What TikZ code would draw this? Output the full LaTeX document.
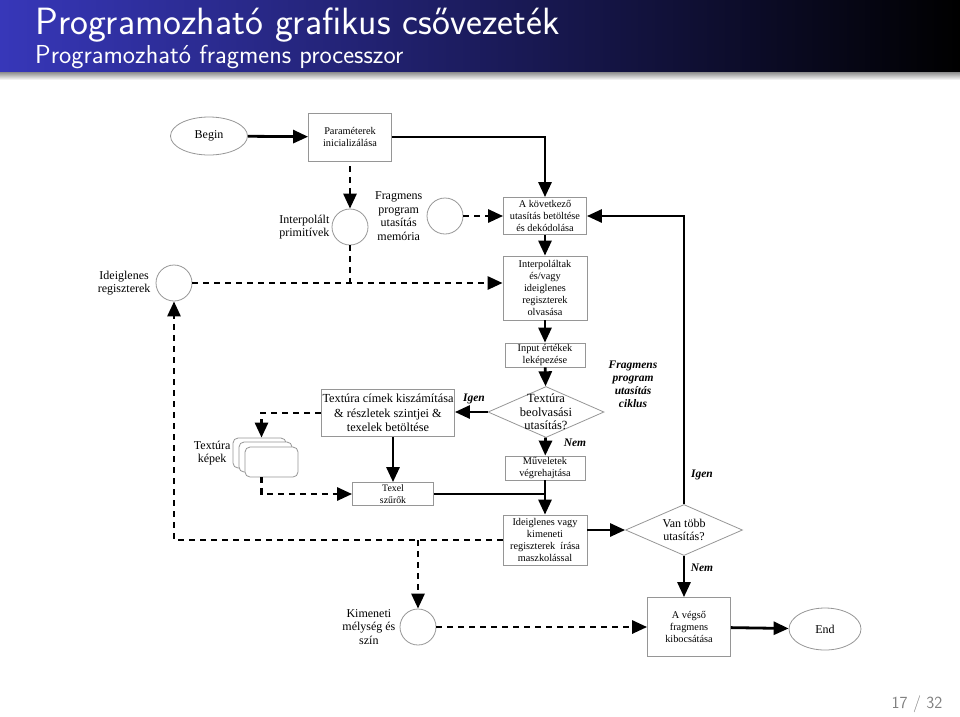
\documentclass[tikz,border=0pt]{standalone}
\usepackage{fontspec}
\setmainfont{Liberation Serif}
\usepackage{xcolor}
\usetikzlibrary{shapes.geometric, arrows.meta, positioning, calc}
\definecolor{barblue}{RGB}{55,55,185}
\definecolor{barmid}{RGB}{24,24,84}
\definecolor{edgegray}{RGB}{150,150,150}
\tikzset{
    procbox/.style={
        rectangle,
        draw=edgegray,
        fill=white,
        line width=0.8pt,
        align=center,
        inner sep=1pt,
        font=\fontsize{10.3}{12}\selectfont
    },
    terminal/.style={
        ellipse,
        draw=edgegray,
        line width=0.8pt,
        align=center,
        font=\fontsize{12}{13}\selectfont
    },
    store/.style={
        circle,
        draw=edgegray,
        line width=0.8pt,
        minimum size=36pt,
        inner sep=0pt
    },
    decision/.style={
        diamond,
        draw=edgegray,
        line width=0.8pt,
        inner sep=0pt
    },
    sidelabel/.style={
        align=center,
        inner sep=1pt,
        font=\fontsize{12}{13.5}\selectfont
    },
    answer/.style={
        align=center,
        inner sep=0pt,
        font=\fontsize{11.5}{13}\selectfont\bfseries\itshape
    },
    flow/.style={
        draw,
        -{Triangle[length=15pt,width=13pt]},
        line width=2.8pt
    },
    dataflow/.style={
        flow,
        dash pattern=on 6pt off 5pt
    },
    texstack/.style={
        rectangle,
        rounded corners=5pt,
        draw=edgegray,
        fill=white,
        line width=0.8pt,
        minimum width=53pt,
        minimum height=30pt
    }
}

\begin{document}
\begin{tikzpicture}[x=1pt, y=-1pt]
    \useasboundingbox (0,0) rectangle (960,716);

    % Title bar
    \shade[left color=barblue, middle color=barmid, right color=black] (0,0) rectangle (960,72);
    \shade[top color=black!45, bottom color=white] (0,72) rectangle (960,80);
    \node (title) [anchor=base west, inner sep=0pt, text=white, font=\sffamily\fontsize{38}{44}\selectfont]
        at (35,34) {Programozható grafikus csővezeték};
    \node (subtitle) [anchor=base west, inner sep=0pt, text=white, font=\sffamily\fontsize{26}{30}\selectfont]
        at (35,63) {Programozható fragmens processzor};

    % Start and parameters
    \node (begin) [terminal, minimum width=77pt, minimum height=38pt] at (209,136) {Begin};
    \node (param) [procbox, minimum width=83pt, minimum height=48pt] at (350,137) {
        Paraméterek\\inicializálása
    };

    % Stores
    \node (interp) [store] at (350,227) {};
    \node (interp-lbl) [sidelabel, left=1pt of interp] {Interpolált\\primitívek};
    \node (fpm) [store] at (445,216) {};
    \node (fpm-lbl) [sidelabel, left=3pt of fpm] {Fragmens\\program\\utasítás\\memória};
    \node (ireg) [store] at (174,283) {};
    \node (ireg-lbl) [sidelabel, left=4pt of ireg] {Ideiglenes\\regiszterek};
    \node (kim) [store] at (418,627) {};
    \node (kim-lbl) [sidelabel, left=3pt of kim] {Kimeneti\\mélység és\\szín};

    % Main column
    \node (kov) [procbox, minimum width=83pt, minimum height=37pt] at (545,216) {
        A következő\\utasítás betöltése\\és dekódolása
    };
    \node (olv) [procbox, minimum width=84pt, minimum height=64pt] at (545,288) {
        Interpoláltak\\és/vagy\\ideiglenes\\regiszterek\\olvasása
    };
    \node (input) [procbox, minimum width=80pt, minimum height=24pt] at (545,355) {
        Input értékek\\leképezése
    };
    \node (texq) [decision, minimum width=116pt, minimum height=51pt] at (546,412) {};
    \node (texq-txt) [sidelabel, font=\fontsize{12.5}{13.5}\selectfont] at (texq) {Textúra\\beolvasási\\utasítás?};
    \node (muv) [procbox, minimum width=80pt, minimum height=24pt] at (545,468) {
        Műveletek\\végrehajtása
    };
    \node (irasa) [procbox, minimum width=84pt, minimum height=50pt] at (545,540) {
        Ideiglenes vagy\\kimeneti\\regiszterek\ \ írása\\maszkolással
    };

    % Texture branch
    \node (cimek) [procbox, minimum width=129pt, minimum height=47pt,
        font=\fontsize{12.3}{14.5}\selectfont] at (388,413) {
        Textúra címek kiszámítása\\\& részletek szintjei \&\\texelek betöltése
    };
    \node (kep1) [texstack] at (259.5,453) {};
    \node (kep2) [texstack] at (265.5,457) {};
    \node (kep3) [texstack] at (271.5,462) {};
    \node (kepek-lbl) [sidelabel, left=1pt of kep1] {Textúra\\képek};
    \node (texel) [procbox, minimum width=81pt, minimum height=23pt,
        font=\fontsize{9.8}{11.5}\selectfont] at (393,494) {
        Texel\\szűrők
    };

    % Loop test and end
    \node (tobb) [decision, minimum width=117pt, minimum height=51pt] at (684,530) {};
    \node (tobb-txt) [sidelabel] at (tobb) {Van több\\utasítás?};
    \node (vegso) [procbox, minimum width=83pt, minimum height=59pt] at (689,627) {
        A végső\\fragmens\\kibocsátása
    };
    \node (endn) [terminal, minimum width=72pt, minimum height=42pt] at (825,629) {End};

    % Answer labels
    \node (igen1) [answer] at (474,399) {Igen};
    \node (nem1) [answer] at (575,443) {Nem};
    \node (igen2) [answer] at (702,475) {Igen};
    \node (nem2) [answer] at (702,568) {Nem};
    \node (ciklus) [answer] at (633,384) {Fragmens\\program\\utasítás\\ciklus};

    % Page number
    \node (pagenum) [text=black!50, font=\sffamily\fontsize{17}{20}\selectfont] at (917,704) {17 / 32};

    % Connections
    \draw [flow] (begin) -- (param);
    \draw [flow] (param.east) -| (kov.north);
    \draw [dataflow, shorten <=5pt] (param.south) -- (interp.north);
    \draw [dataflow, -] (interp.south) -- (interp.south |- ireg.east);
    \draw [dataflow] (fpm) -- (kov);
    \draw [dataflow] (ireg.east) -- (ireg.east -| olv.west);
    \draw [flow] (kov) -- (olv);
    \draw [flow] (olv) -- (input);
    \draw [flow] (input) -- (texq);
    \draw [flow] (texq.west) -- (texq.west -| cimek.east);
    \draw [dataflow] (cimek.west) -| ([xshift=2pt]kep1.north);
    \draw [dataflow] ([xshift=2pt]kep1.north |- kep3.south) |- (texel.west);
    \draw [flow] (texel.north |- cimek.south) -- (texel.north);
    \draw [flow] (texq) -- (muv);
    \draw [flow, -] (texel.east) -- (texel.east -| muv.south);
    \draw [flow] (muv) -- (irasa);
    \draw [flow] (irasa.east |- tobb.west) -- (tobb.west);
    \draw [flow] (tobb.north) |- (kov.east);
    \draw [flow] (tobb.south) -- (tobb.south |- vegso.north);
    \draw [dataflow] (irasa.west) -| (ireg.south);
    \draw [dataflow] (kim.north |- irasa.west) -- (kim.north);
    \draw [dataflow] (kim) -- (kim -| vegso.west);
    \draw [flow] (vegso) -- (endn);

\end{tikzpicture}
\end{document}
